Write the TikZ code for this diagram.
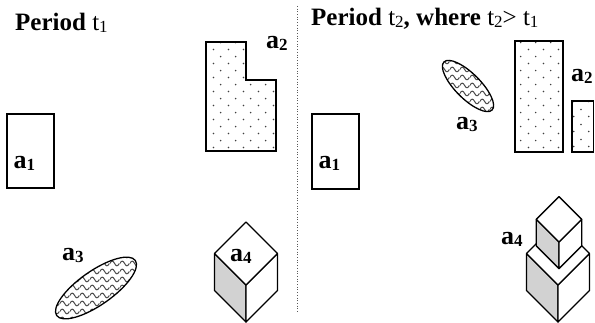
\documentclass[tikz,border=0pt]{standalone}
\usepackage{fontspec}
\setmainfont{Liberation Serif}
\usetikzlibrary{patterns}

% sparse staggered dots and wavy lines
\pgfdeclarepatternformonly{sparsedots}{\pgfqpoint{0pt}{0pt}}{\pgfqpoint{15pt}{14.4pt}}{\pgfqpoint{15pt}{14.4pt}}{%
  \pgfpathcircle{\pgfqpoint{3.75pt}{3.6pt}}{0.9pt}%
  \pgfpathcircle{\pgfqpoint{11.25pt}{10.8pt}}{0.9pt}%
  \pgfusepath{fill}}
\pgfdeclarepatternformonly{wavelines}{\pgfqpoint{0pt}{0pt}}{\pgfqpoint{10pt}{7.5pt}}{\pgfqpoint{10pt}{7.5pt}}{%
  \pgfsetlinewidth{1.1pt}%
  \pgfpathmoveto{\pgfqpoint{-0.2pt}{3.75pt}}%
  \pgfpathcurveto{\pgfqpoint{1.7pt}{7pt}}{\pgfqpoint{3.3pt}{7pt}}{\pgfqpoint{5pt}{3.75pt}}%
  \pgfpathcurveto{\pgfqpoint{6.7pt}{0.5pt}}{\pgfqpoint{8.3pt}{0.5pt}}{\pgfqpoint{10.2pt}{3.75pt}}%
  \pgfusepath{stroke}}

\newcommand{\tagfont}{\fontsize{26}{30}\selectfont\bfseries}
\newcommand{\headfont}{\fontsize{25}{28}\selectfont}
\newcommand{\lowidx}[1]{\raisebox{-1.5pt}{\fontsize{17}{17}\selectfont #1}}

\tikzset{
  outline/.style={draw=black, line width=1.6pt},
  dotfill/.style={outline, pattern=sparsedots, pattern color=black!75},
  wavefill/.style={draw=black, line width=1.3pt, pattern=wavelines, pattern color=black!70},
  cubeline/.style={draw=black, line width=1.3pt, line join=round},
  divider/.style={draw=black!65, dotted, line width=0.7pt},
  tag/.style={font=\tagfont, inner sep=0pt, anchor=base west},
  heading/.style={font=\headfont, inner sep=0pt, anchor=base west},
  blockcube/.pic={
    \filldraw[cubeline, fill=gray!35] (-31.5,-31.5) -- (0,0) -- (0,37) -- (-31.5,5.5) -- cycle;
    \filldraw[cubeline, fill=white] (0,0) -- (31.5,-31.5) -- (31.5,5.5) -- (0,37) -- cycle;
    \filldraw[cubeline, fill=white] (0,-63) -- (-31.5,-31.5) -- (0,0) -- (31.5,-31.5) -- cycle;
  }
}

\begin{document}
\begin{tikzpicture}[x=1pt, y=-1pt]
  \useasboundingbox (0,0) rectangle (595,323);

  % period t1
  \node[heading] (head1) at (15,31) {\textbf{Period} t\lowidx{1}};
  \draw[outline] (7,114) rectangle (54,188);
  \node[tag] (a1left) at (13.5,169) {a\lowidx{1}};
  \draw[dotfill] (206,42) -- (246,42) -- (246,80) -- (276,80) -- (276,151) -- (206,151) -- cycle;
  \node[tag] (a2left) at (266,49) {a\lowidx{2}};
  \draw[wavefill, rotate around={35:(96,288)}] (96,288) ellipse [x radius=48, y radius=17];
  \node[tag] (a3left) at (62,261) {a\lowidx{3}};
  \pic at (246,285) {blockcube};
  \node[tag] (a4left) at (230,262) {a\lowidx{4}};

  \draw[divider] (297.5,6) -- (297.5,312);

  % period t2
  \node[heading] (head2) at (311,26)
    {\textbf{Period} t\lowidx{2}\textbf{, where} t\lowidx{2}> t\lowidx{1}};
  \draw[outline] (312,114) rectangle (359,189);
  \node[tag] (a1right) at (318.5,169) {a\lowidx{1}};
  \draw[wavefill, rotate around={-45:(468,86)}] (468,86) ellipse [x radius=34, y radius=12.5];
  \node[tag] (a3right) at (456,130) {a\lowidx{3}};
  \draw[dotfill] (515,41) rectangle (563,152);
  \draw[dotfill] (572,101) rectangle (593.5,152);
  \node[tag] (a2right) at (571,82) {a\lowidx{2}};
  \pic at (558,285) {blockcube};
  \pic[scale=0.72] at (559,242) {blockcube};
  \node[tag] (a4right) at (501,245) {a\lowidx{4}};
\end{tikzpicture}
\end{document}
